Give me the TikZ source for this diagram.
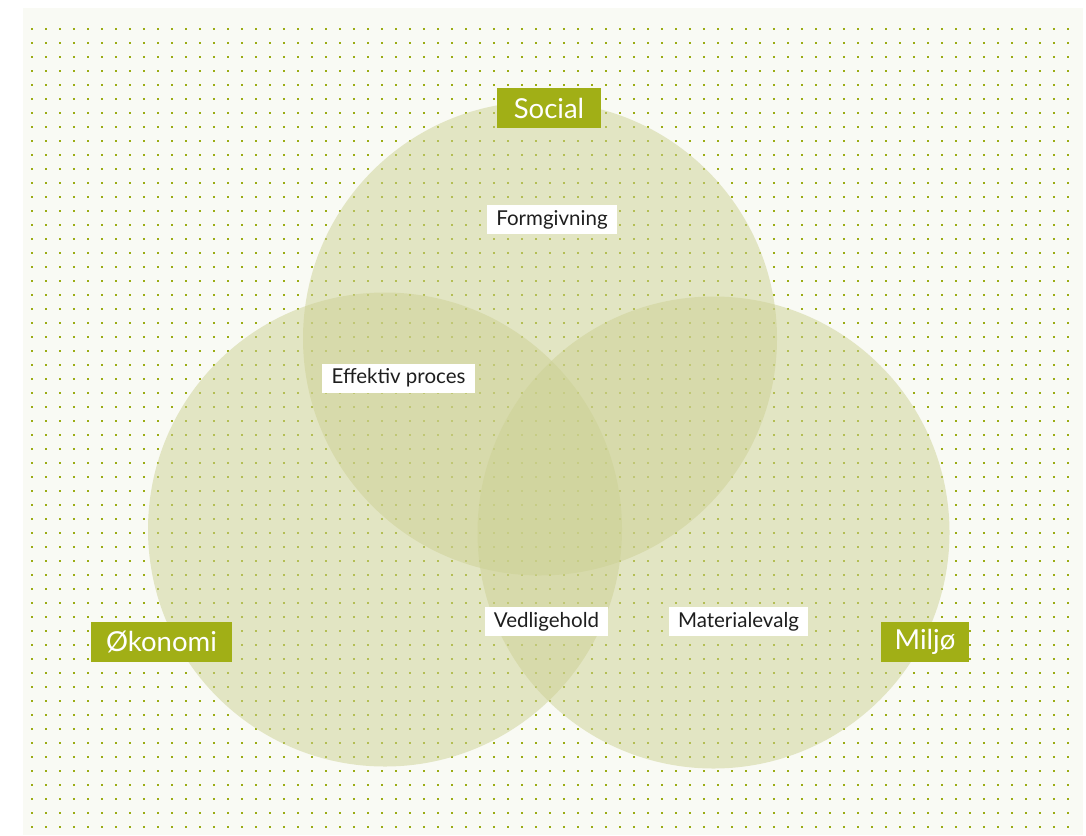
\documentclass[tikz,border=0pt]{standalone}
\usepackage{fontspec}
\setmainfont{Lato}
\definecolor{bgc}{RGB}{249,250,244}
\definecolor{dotc}{RGB}{155,172,20}
\definecolor{circc}{RGB}{205,209,148}
\definecolor{labc}{RGB}{161,175,22}
\definecolor{txtc}{RGB}{30,30,30}
\begin{document}
\begin{tikzpicture}[x=1pt,y=-1pt,
  venn/.style={circle, fill=circc, fill opacity=0.5, inner sep=0pt, draw=none},
  biglab/.style={fill=labc, text=white, inner sep=0pt, minimum height=40pt, font=\fontsize{27.5}{30}\selectfont},
  smalllab/.style={fill=white, text=txtc, inner sep=0pt, minimum height=29pt, font=\fontsize{20.5}{22}\selectfont}]
\useasboundingbox (0,0) rectangle (1086,835);
\fill[white] (0,0) rectangle (1086,835);
\fill[bgc] (23,8) rectangle (1083,835);
\foreach \i in {0,...,74}{
  \foreach \j in {0,...,57}{
    \fill[dotc] ({32+14*\i-1.2},{29+14*\j-1.2}) rectangle ++(2.4,2.4);
  }
}
\node[venn, minimum size=474pt] (soc) at (540,338.5) {};
\node[venn, minimum size=474pt] (oko) at (385,529.5) {};
\node[venn, minimum size=472pt] (mil) at (713.5,532.5) {};
\node[biglab, minimum width=104pt] (lsoc) at (549,108) {Social};
\node[biglab, minimum width=141pt] (loko) at (161.5,642) {Økonomi};
\node[biglab, minimum width=88pt] (lmil) at (925,642) {Miljø};
\node[smalllab, minimum width=130pt] (form) at (552,219.5) {Formgivning};
\node[smalllab, minimum width=153pt] (eff) at (398.5,378) {Effektiv proces};
\node[smalllab, minimum width=123pt] (ved) at (546.5,621.5) {Vedligehold};
\node[smalllab, minimum width=139pt] (mat) at (738.5,621.5) {Materialevalg};
\end{tikzpicture}
\end{document}
